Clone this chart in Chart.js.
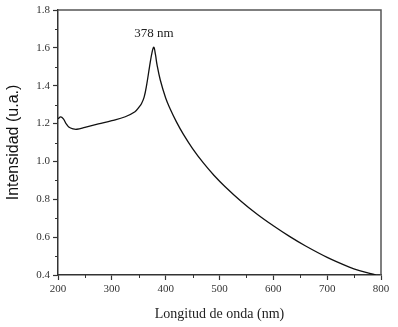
<!DOCTYPE html>
<html>
<head>
<meta charset="utf-8">
<script src="https://cdn.jsdelivr.net/npm/chart.js@4.4.0/dist/chart.umd.min.js"></script>
<style>
  html, body { margin: 0; padding: 0; background: #fff; }
  #wrap { width: 398px; height: 327px; }
</style>
</head>
<body>
<div id="wrap"><canvas id="spec"></canvas></div>
<script>
// Espectro de absorción
var wavelengths = [200, 205, 210, 215, 220, 228, 235, 250, 275, 300, 325, 343, 350, 355, 360, 365, 370, 375, 378,
  381, 384, 390, 400, 408, 420, 433, 450, 470, 490, 510, 540, 570, 600, 630, 660, 700, 740, 760, 790];
var intensity = [1.225, 1.235, 1.225, 1.200, 1.182, 1.172, 1.170, 1.180, 1.198, 1.215, 1.236, 1.262, 1.285, 1.305, 1.340, 1.410, 1.500, 1.580, 1.603,
  1.565, 1.510, 1.430, 1.335, 1.280, 1.209, 1.143, 1.068, 0.992, 0.926, 0.868, 0.790, 0.721, 0.660, 0.604, 0.553, 0.493, 0.443, 0.423, 0.400];
var xTicks = [200, 300, 400, 500, 600, 700, 800];
var yTicks = [0.4, 0.6, 0.8, 1.0, 1.2, 1.4, 1.6, 1.8];
var peakLabel = { x: 378, y: 1.675, text: '378 nm' };

var serif = '"Liberation Serif", "DejaVu Serif", serif';
var axisColor = '#333';

// marco + ticks menores + etiqueta del pico
var framePlugin = {
  id: 'frame',
  afterDraw: function (chart) {
    var ctx = chart.ctx, a = chart.chartArea;
    var xs = chart.scales.x, ys = chart.scales.y;
    ctx.save();
    ctx.strokeStyle = '#555';
    ctx.lineWidth = 1.5;
    ctx.beginPath();
    ctx.moveTo(a.left, a.top); ctx.lineTo(a.right, a.top); ctx.lineTo(a.right, a.bottom);
    ctx.stroke();
    ctx.strokeStyle = axisColor;
    ctx.lineWidth = 1;
    ctx.beginPath();
    for (var v = 250; v < 800; v += 100) {
      var px = Math.round(xs.getPixelForValue(v)) + 0.5;
      ctx.moveTo(px, a.bottom); ctx.lineTo(px, a.bottom + 3);
    }
    for (var w = 0.5; w < 1.8; w += 0.2) {
      var py = Math.round(ys.getPixelForValue(w)) + 0.5;
      ctx.moveTo(a.left, py); ctx.lineTo(a.left - 3, py);
    }
    ctx.stroke();
    ctx.fillStyle = '#222';
    ctx.font = '13px ' + serif;
    ctx.textAlign = 'center';
    ctx.textBaseline = 'middle';
    ctx.fillText(peakLabel.text, xs.getPixelForValue(peakLabel.x), ys.getPixelForValue(peakLabel.y));
    ctx.restore();
  }
};

new Chart(document.getElementById('spec').getContext('2d'), {
  type: 'line',
  data: {
    datasets: [{
      data: wavelengths.map(function (x, i) { return { x: x, y: intensity[i] }; }),
      borderColor: '#111',
      borderWidth: 1.3,
      pointRadius: 0,
      fill: false,
      tension: 0.4
    }]
  },
  options: {
    responsive: true, maintainAspectRatio: false, animation: false,
    layout: { padding: { top: 10, right: 17, left: 0, bottom: 0 } },
    plugins: { legend: { display: false }, tooltip: { enabled: false } },
    scales: {
      x: {
        type: 'linear', min: 200, max: 800,
        afterFit: function (s) { s.height = 52; },
        afterBuildTicks: function (s) { s.ticks = xTicks.map(function (v) { return { value: v }; }); },
        border: { color: axisColor, width: 1.5 },
        grid: { drawOnChartArea: false, drawTicks: true, tickLength: 5, tickColor: axisColor, tickWidth: 1.2 },
        ticks: { color: '#333', font: { family: serif, size: 11 }, padding: 3, maxRotation: 0 },
        title: { display: true, text: 'Longitud de onda (nm)', color: '#222', font: { family: serif, size: 14 }, padding: { top: 2 } }
      },
      y: {
        type: 'linear', min: 0.4, max: 1.8,
        afterFit: function (s) { s.width = 58; },
        afterBuildTicks: function (s) { s.ticks = yTicks.map(function (v) { return { value: v }; }); },
        border: { color: axisColor, width: 1.5 },
        grid: { drawOnChartArea: false, drawTicks: true, tickLength: 5, tickColor: axisColor, tickWidth: 1.2 },
        ticks: { color: '#333', font: { family: serif, size: 11 }, padding: 3,
          callback: function (v) { return v.toFixed(1); } },
        title: { display: true, text: 'Intensidad (u.a.)', color: '#111', font: { family: '"Liberation Sans", Arial, sans-serif', size: 16 }, padding: { bottom: 0, top: 4 } }
      }
    }
  },
  plugins: [framePlugin]
});
</script>
</body>
</html>
